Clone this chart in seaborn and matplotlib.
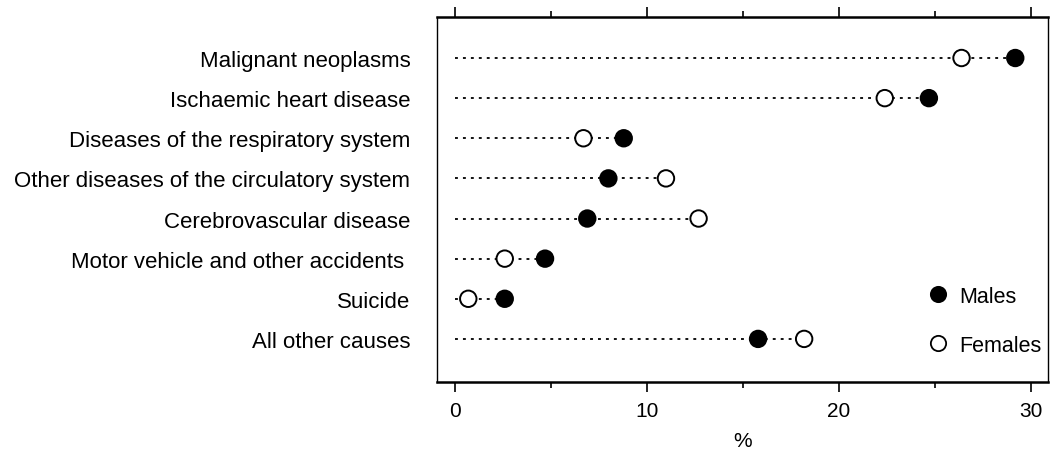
import pandas as pd
import matplotlib.pyplot as plt
import seaborn as sns
from matplotlib.ticker import MultipleLocator


causes = [
    "Malignant neoplasms",
    "Ischaemic heart disease",
    "Diseases of the respiratory system",
    "Other diseases of the circulatory system",
    "Cerebrovascular disease",
    "Motor vehicle and other accidents ",
    "Suicide",
    "All other causes",
]
males = [29.2, 24.7, 8.8, 8.0, 6.9, 4.7, 2.6, 15.8]
females = [26.4, 22.4, 6.7, 11.0, 12.7, 2.6, 0.7, 18.2]

sns.set_theme(style="white")
plt.rcParams["font.family"] = ["Liberation Sans", "DejaVu Sans"]
plt.rcParams.update({"text.color": "black", "axes.labelcolor": "black",
                     "xtick.color": "black", "ytick.color": "black"})

df = pd.DataFrame({"cause": causes * 2,
                   "pct": males + females,
                   "sex": ["Males"] * len(causes) + ["Females"] * len(causes)})
df["row"] = df["cause"].map({c: i for i, c in enumerate(causes)})

fig = plt.figure(figsize=(10.5, 4.52), dpi=100)
ax = fig.add_axes([0.416, 0.153, 0.582, 0.807])

# dotted guide lines from 0 to the larger value
widest = df.groupby("row")["pct"].max()
ax.hlines(widest.index, 0, widest.values, colors="black",
          linestyles=(0, (1.6, 2.8)), linewidth=1.3, zorder=1)

sns.scatterplot(data=df, x="pct", y="row", hue="sex",
                palette={"Males": "black", "Females": "white"},
                hue_order=["Males", "Females"],
                edgecolor="black", linewidth=1.4, s=140, zorder=3,
                ax=ax)

ax.set_yticks(range(len(causes)))
ax.set_yticklabels(causes, fontsize=16)
ax.set_ylim(7 + 1.07, -1.02)
ax.set_xlim(-0.94, 30.9)
ax.xaxis.set_major_locator(MultipleLocator(10))
ax.xaxis.set_minor_locator(MultipleLocator(5))
ax.tick_params(axis="x", which="both", top=True, bottom=True,
               direction="out", labelsize=15, pad=7)
ax.tick_params(axis="x", which="major", length=7, width=1.2)
ax.tick_params(axis="x", which="minor", length=4, width=1.2)
ax.tick_params(axis="y", length=0, pad=19)
ax.set_xlabel("%", fontsize=15, labelpad=8)
ax.set_ylabel("")

for side in ["left", "right", "top", "bottom"]:
    ax.spines[side].set_color("black")
ax.spines["top"].set_linewidth(1.8)
ax.spines["bottom"].set_linewidth(1.8)
ax.spines["left"].set_linewidth(1.0)
ax.spines["right"].set_linewidth(1.0)

handles, labels = ax.get_legend_handles_labels()
for h in handles:
    h.set_markersize(11)
    h.set_markeredgecolor("black")
    h.set_markeredgewidth(1.3)
ax.legend(handles, labels, loc="lower right", bbox_to_anchor=(1.015, 0.03),
          frameon=False, fontsize=15.5, labelspacing=1.3, handletextpad=0.0,
          borderpad=0.2)

fig.savefig("out.png", dpi=100)
